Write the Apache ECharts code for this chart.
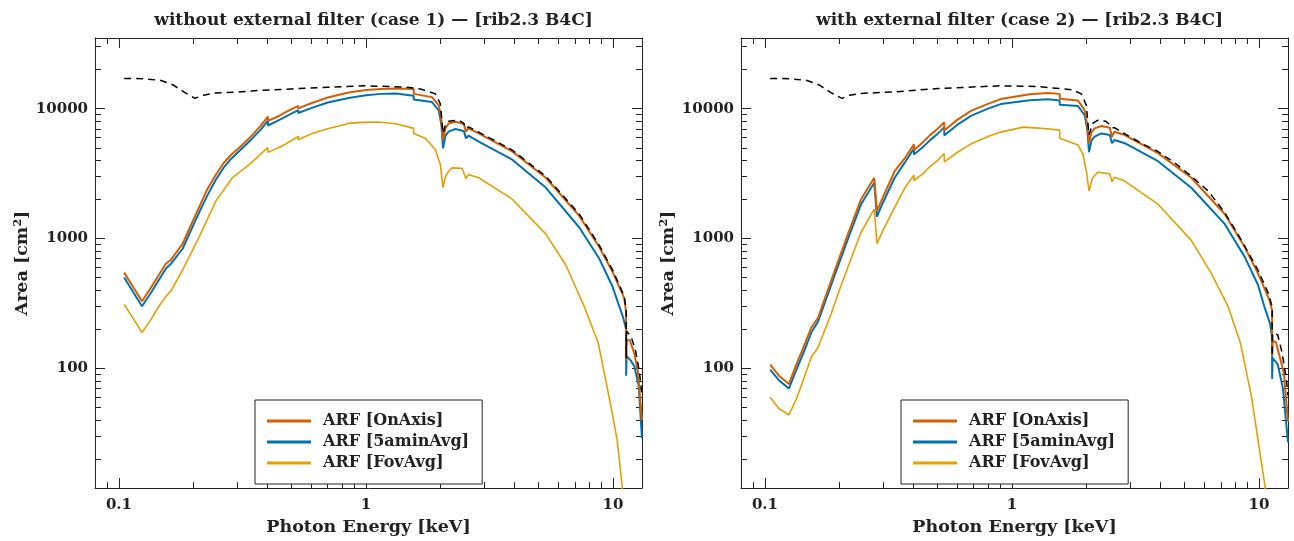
<!DOCTYPE html>
<html>
<head>
<meta charset="utf-8">
<script src="https://cdn.jsdelivr.net/npm/echarts@6.0.0/dist/echarts.min.js"></script>
<style>
html, body { margin: 0; padding: 0; background: #fff; }
#chart { width: 1294px; height: 541px; }
</style>
</head>
<body>
<div id="chart"></div>
<script>
var FONT = '"DejaVu Serif", serif';
var INK = '#222';
var COL_ON = '#D55E00', COL_5A = '#0072B2', COL_FOV = '#E69F00';

var X_MIN = 0.08, X_MAX = 13.1, Y_MIN = 12, Y_MAX = 35000;
var xMajor = [0.1, 1, 10];
var xMinor = [0.09, 0.2, 0.3, 0.4, 0.5, 0.6, 0.7, 0.8, 0.9, 2, 3, 4, 5, 6, 7, 8, 9];
var yMajor = [100, 1000, 10000];
var yMinor = [20, 30, 40, 50, 60, 70, 80, 90, 200, 300, 400, 500, 600, 700, 800, 900,
  2000, 3000, 4000, 5000, 6000, 7000, 8000, 9000, 20000, 30000];

var titles = ['without external filter (case 1) \u2014 [rib2.3 B4C]', 'with external filter (case 2) \u2014 [rib2.3 B4C]'];
var legendNames = ['ARF [OnAxis]', 'ARF [5aminAvg]', 'ARF [FovAvg]'];

// case 1 : [energy keV, area cm2]
var c1OnAxis = [[0.105,547],[0.115,415],[0.124,329],[0.135,421],[0.145,525],[0.155,643],[0.162,683],[0.181,912],[0.195,1250],[0.211,1738],[0.228,2400],[0.247,3110],[0.265,3800],[0.284,4400],[0.31,5100],[0.345,6200],[0.375,7400],[0.401,8700],[0.401,8050],[0.44,8700],[0.473,9400],[0.532,10500],[0.532,10050],[0.6,11000],[0.7,12200],[0.85,13300],[1.0,13900],[1.15,14200],[1.32,14300],[1.56,14200],[1.56,13000],[1.85,12270],[1.97,10600],[2.02,8400],[2.05,5740],[2.1,7100],[2.16,7690],[2.3,7920],[2.49,7600],[2.54,6650],[2.6,7050],[2.86,6450],[3.91,4690],[5.34,2940],[7.29,1500],[8.79,862],[9.95,556],[11.1,348],[11.3,270],[11.3,115],[11.35,165],[11.7,165],[12.2,130],[12.6,95],[13.1,40]];
var c1Amin = [[0.105,501],[0.115,380],[0.124,301],[0.135,385],[0.145,480],[0.155,589],[0.162,636],[0.181,835],[0.195,1140],[0.211,1585],[0.228,2150],[0.247,2850],[0.265,3500],[0.284,4100],[0.31,4800],[0.345,5850],[0.375,6900],[0.401,8100],[0.401,7420],[0.44,8100],[0.473,8700],[0.532,9750],[0.532,9270],[0.6,10100],[0.7,11150],[0.85,12100],[1.0,12700],[1.15,13000],[1.32,13100],[1.56,12600],[1.56,11770],[1.85,11240],[1.97,9710],[2.02,7500],[2.05,4960],[2.1,6200],[2.16,6650],[2.3,6970],[2.49,6730],[2.54,5910],[2.6,6200],[2.86,5570],[3.91,4050],[5.34,2470],[7.29,1222],[8.79,702],[9.95,428],[10.6,301],[11.0,245],[11.3,200],[11.3,88],[11.35,125],[11.8,115],[12.2,104],[12.7,74],[13.1,29]];
var c1Fov = [[0.105,311],[0.115,238],[0.124,189],[0.135,240],[0.145,300],[0.155,359],[0.162,392],[0.181,573],[0.211,1026],[0.247,1950],[0.288,2940],[0.337,3710],[0.4,5020],[0.401,4610],[0.447,5050],[0.473,5350],[0.532,6100],[0.532,5770],[0.6,6400],[0.7,7000],[0.85,7700],[0.96,7850],[1.12,7900],[1.32,7650],[1.56,7050],[1.56,6450],[1.74,5910],[1.91,4820],[2.0,3710],[2.05,2470],[2.1,3000],[2.16,3300],[2.23,3500],[2.45,3480],[2.54,2900],[2.6,3110],[2.86,2940],[3.91,2010],[5.34,1088],[6.44,626],[7.64,301],[8.71,158],[9.79,52],[10.4,28],[10.8,14.4],[11.0,10]];
var c1Ideal = [[0.105,17100],[0.125,17000],[0.148,16500],[0.165,15300],[0.185,13300],[0.203,12000],[0.22,12700],[0.243,13200],[0.3,13400],[0.345,13700],[0.5,14200],[0.7,14600],[1.0,15000],[1.42,14700],[1.66,14200],[1.91,13000],[2.0,10900],[2.05,6450],[2.1,7600],[2.16,8010],[2.38,8150],[2.49,7700],[2.54,7000],[2.6,7250],[2.86,6600],[3.91,4800],[5.34,3020],[7.29,1550],[8.79,890],[9.95,575],[11.1,360],[11.3,280],[11.3,120],[11.35,193],[11.8,178],[12.3,141],[12.8,93],[13.1,62]];

// case 2
var c2OnAxis = [[0.105,107],[0.114,88],[0.125,76],[0.135,111],[0.145,155],[0.154,206],[0.164,245],[0.19,540],[0.217,1088],[0.245,2010],[0.277,2940],[0.284,1636],[0.3,2070],[0.335,3300],[0.368,4140],[0.401,5320],[0.401,4790],[0.435,5500],[0.465,6230],[0.5,7000],[0.532,7870],[0.532,6800],[0.6,8200],[0.685,9660],[0.8,10900],[0.9,11850],[1.18,12930],[1.4,13200],[1.56,13000],[1.56,11900],[1.85,11570],[1.97,9710],[2.02,7400],[2.05,5420],[2.1,6600],[2.16,7050],[2.3,7350],[2.49,7130],[2.54,6090],[2.6,6650],[2.86,6270],[3.9,4550],[5.32,2940],[7.26,1546],[8.75,862],[9.9,540],[11.0,339],[11.3,280],[11.3,124],[11.35,162],[11.7,160],[12.2,118],[12.6,93],[13.1,39]];
var c2Amin = [[0.105,98],[0.114,81],[0.125,70],[0.135,101],[0.145,140],[0.154,189],[0.164,229],[0.19,500],[0.217,1000],[0.245,1840],[0.277,2690],[0.284,1476],[0.3,1880],[0.335,2940],[0.368,3840],[0.401,4930],[0.401,4440],[0.435,5050],[0.465,5700],[0.5,6400],[0.532,7210],[0.532,6230],[0.6,7500],[0.685,8850],[0.8,10000],[0.9,10850],[1.18,11600],[1.4,11800],[1.56,11570],[1.56,10700],[1.85,10480],[1.97,8890],[2.02,6800],[2.05,4630],[2.1,5700],[2.16,6090],[2.3,6450],[2.49,6270],[2.54,5420],[2.6,5740],[2.86,5420],[3.9,3940],[5.32,2460],[7.26,1297],[8.75,723],[9.9,441],[10.5,301],[11.1,220],[11.3,170],[11.3,83],[11.35,120],[11.9,108],[12.5,70],[13.1,27]];
var c2Fov = [[0.105,60],[0.114,49],[0.125,44],[0.134,58],[0.145,88],[0.154,122],[0.164,145],[0.186,268],[0.2,400],[0.217,607],[0.245,1119],[0.277,1686],[0.284,912],[0.3,1150],[0.335,1738],[0.368,2450],[0.401,3080],[0.401,2800],[0.435,3150],[0.465,3570],[0.5,4000],[0.532,4520],[0.532,3900],[0.6,4600],[0.685,5380],[0.8,6100],[0.9,6600],[1.11,7210],[1.28,7090],[1.56,6840],[1.56,5910],[1.85,5260],[1.94,4420],[2.0,3300],[2.05,2330],[2.12,2940],[2.23,3245],[2.49,3150],[2.54,2740],[2.6,2970],[2.86,2770],[3.9,1840],[5.32,969],[6.41,540],[7.49,301],[8.4,158],[9.3,62],[10.0,25],[10.6,12],[10.7,10]];
var c2Ideal = [[0.105,17100],[0.125,17000],[0.148,16500],[0.165,15300],[0.185,13300],[0.205,12000],[0.22,12700],[0.245,13100],[0.34,13500],[0.5,14300],[0.9,15000],[1.28,14800],[1.6,14200],[1.75,14000],[1.91,13000],[2.0,10600],[2.05,6270],[2.12,7700],[2.23,8150],[2.4,8010],[2.49,7500],[2.54,7130],[2.6,7130],[2.95,6200],[3.34,5420],[3.9,4680],[4.56,3820],[5.32,3020],[6.22,2330],[7.26,1585],[8.49,969],[9.9,573],[10.9,380],[11.3,300],[11.3,125],[11.35,187],[11.9,182],[12.4,132],[12.9,83],[13.1,62]];

var panels = [
  { left: 95, title: titles[0], on: c1OnAxis, amin: c1Amin, fov: c1Fov, ideal: c1Ideal },
  { left: 741, title: titles[1], on: c2OnAxis, amin: c2Amin, fov: c2Fov, ideal: c2Ideal }
];
var PW = 547, PT = 38, PH = 455;
var AX_PER_GRID = 5;

function fmtTick(v) { return String(+Number(v).toPrecision(3)); }
function lg(v) { return Math.log10(v); }

// one log axis carries data, line and labels; four value axes (in log10 units) only draw ticks
function makeAxes(dim, gi) {
  var isX = dim === 'x';
  var min = isX ? X_MIN : Y_MIN, max = isX ? X_MAX : Y_MAX;
  var major = isX ? xMajor : yMajor, minor = isX ? xMinor : yMinor;
  var sides = isX ? ['bottom', 'top'] : ['left', 'right'];
  var txt = { color: INK, fontFamily: FONT, fontWeight: 'bold' };

  var main = {
    type: 'log', logBase: 10, gridIndex: gi, position: sides[0], min: min, max: max,
    axisLine: { show: true, onZero: false, lineStyle: { color: INK, width: 1 } },
    axisTick: { show: false },
    axisLabel: Object.assign({ customValues: major, formatter: fmtTick, margin: isX ? 10 : 7, fontSize: 15 }, txt),
    splitLine: { show: false }, silent: true
  };
  if (isX) {
    main.name = 'Photon Energy [keV]';
    main.nameLocation = 'middle';
    main.nameGap = 25;
    main.nameTextStyle = Object.assign({ fontSize: 17.5 }, txt);
  } else {
    main.name = 'Area [cm{sup|2}]';
    main.nameLocation = 'middle';
    main.nameGap = 61;
    main.nameTextStyle = Object.assign({ fontSize: 17.5,
      rich: { sup: Object.assign({ fontSize: 11, padding: [0, 0, 9, 0] }, txt) } }, txt);
  }
  var out = [main];
  sides.forEach(function(side, si) {
    [major, minor].forEach(function(vals, mi) {
      out.push({
        type: 'value', gridIndex: gi, position: side, min: lg(min), max: lg(max),
        axisLine: { show: si === 1 && mi === 0, onZero: false, lineStyle: { color: INK, width: 1 } },
        axisTick: { show: true, inside: true, length: mi === 0 ? 10 : 6, customValues: vals.map(lg),
          lineStyle: { color: INK, width: 1 } },
        axisLabel: { show: false },
        splitLine: { show: false }, silent: true
      });
    });
  });
  return out;
}

var option = { animation: false, backgroundColor: '#fff', title: [], grid: [], xAxis: [], yAxis: [], legend: [], series: [] };

panels.forEach(function(p, gi) {
  option.title.push({ text: p.title, left: p.left + PW / 2, top: 7, textAlign: 'center',
    textStyle: { color: INK, fontFamily: FONT, fontWeight: 'bold', fontSize: 17 } });
  option.grid.push({ left: p.left, top: PT, width: PW, height: PH });
  option.xAxis = option.xAxis.concat(makeAxes('x', gi));
  option.yAxis = option.yAxis.concat(makeAxes('y', gi));
  option.legend.push({
    left: p.left + 160, top: 400, orient: 'vertical', data: legendNames,
    icon: 'rect', itemWidth: 44, itemHeight: 3, itemGap: 5,
    padding: [13, 13, 13, 12], backgroundColor: '#fff', borderColor: INK, borderWidth: 1, borderRadius: 0,
    selectedMode: false,
    textStyle: { color: INK, fontFamily: FONT, fontWeight: 'bold', fontSize: 16, padding: [0, 0, 0, 7] }
  });
  var ax = gi * AX_PER_GRID;
  [
    { name: legendNames[2], data: p.fov, color: COL_FOV, width: 1.6, type: 'solid' },
    { name: legendNames[1], data: p.amin, color: COL_5A, width: 2, type: 'solid' },
    { name: legendNames[0], data: p.on, color: COL_ON, width: 2, type: 'solid' },
    { name: 'Ideal', data: p.ideal, color: '#000', width: 1.5, type: [7, 5] }
  ].forEach(function(s, k) {
    option.series.push({
      type: 'line', name: s.name, xAxisIndex: ax, yAxisIndex: ax, data: s.data,
      showSymbol: false, symbol: 'none', z: 2 + k, clip: true,
      itemStyle: { color: s.color },
      lineStyle: { color: s.color, width: s.width, type: s.type }
    });
  });
});

var chart = echarts.init(document.getElementById('chart'));
chart.setOption(option);
</script>
</body>
</html>
